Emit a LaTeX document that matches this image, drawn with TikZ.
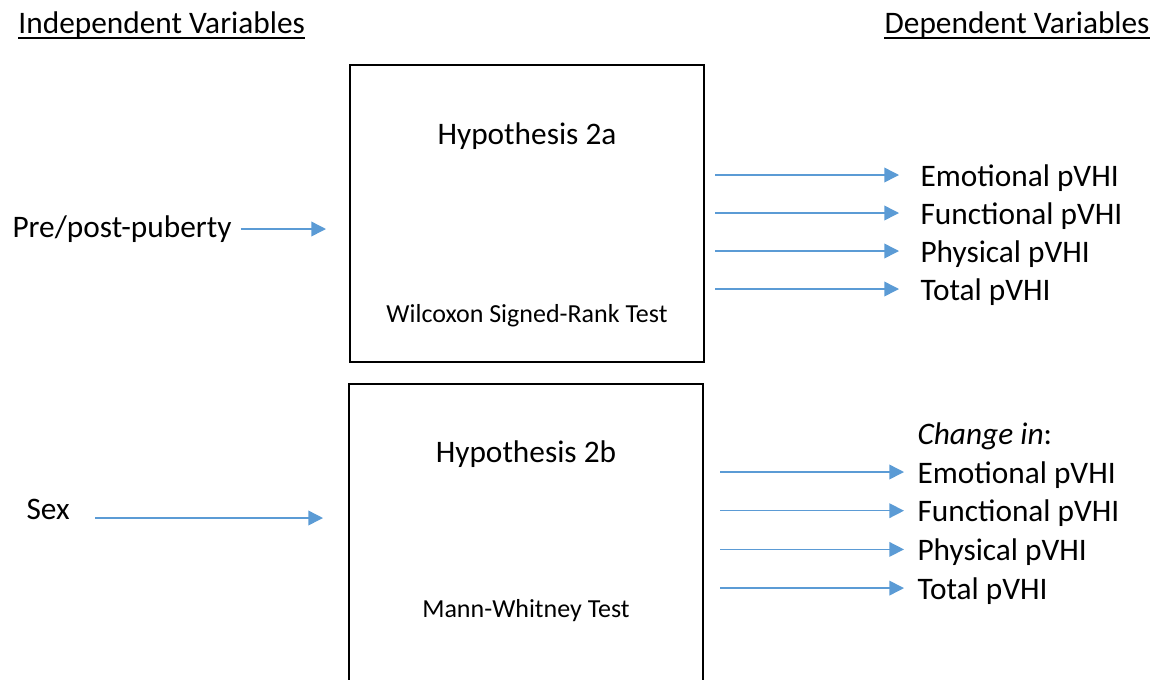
\documentclass[tikz,border=0pt]{standalone}
\usepackage{fontspec}
\setmainfont{Carlito}
\usetikzlibrary{arrows.meta,positioning,calc}
\definecolor{arrowblue}{HTML}{5B9BD5}
\tikzset{every picture/.style={line width=0.75pt}}
\tikzset{
    hypbox/.style={draw, line width=1.5pt, inner sep=0pt, anchor=north west},
    varlabel/.style={font=\fontsize{23.5}{28}\selectfont, inner sep=0pt,
        text height=16.5pt, text depth=0pt, anchor=base west},
    testlabel/.style={font=\fontsize{19.5}{24}\selectfont, inner sep=0pt,
        text height=14pt, text depth=0pt},
    effect/.style={draw=arrowblue, line width=1.1pt, -{Triangle[length=11pt, width=11pt]}},
    headline/.style={line width=1.5pt}
}

\begin{document}
\begin{tikzpicture}[x=0.75pt, y=-0.75pt]
    \useasboundingbox (0,0) rectangle (1162,679);
    % headings
    \node[varlabel] (indep) at (18,33) {Independent Variables};
    \node[varlabel, anchor=base east] (dep) at (1150,33) {Dependent Variables};
    \draw[headline] ([yshift=-3.75pt]indep.base west) -- ([yshift=-3.75pt]indep.base east);
    \draw[headline] ([yshift=-3.75pt]dep.base west) -- ([yshift=-3.75pt]dep.base east);

    % the two tests
    \node[hypbox, minimum width=265.5pt, minimum height=222.75pt] (boxA) at (349,64) {};
    \node[hypbox, minimum width=265.5pt, minimum height=240pt] (boxB) at (348,383) {};
    \node[varlabel, below=43.5pt of boxA.north] (hypA) {Hypothesis 2a};
    \node[testlabel, above=30pt of boxA.south] (testA) {Wilcoxon Signed-Rank Test};
    \node[varlabel, below=42.75pt of boxB.north] (hypB) {Hypothesis 2b};
    \node[testlabel, below=161.5pt of boxB.north] (testB) {Mann-Whitney Test};

    % independent variables
    \node[varlabel] (pre) at (12,237) {Pre/post-puberty};
    \node[varlabel] (sex) at (26,519) {Sex};
    \draw[effect, shorten <=6.75pt, shorten >=17.25pt]
        ($(pre.east)+(0,3)$) -- ($(pre.east -| boxA.west)+(0,3)$);
    \draw[effect, shorten <=18.75pt, shorten >=18.75pt]
        ($(sex.east)+(0,10)$) -- ($(sex.east -| boxB.west)+(0,10)$);

    % dependent variables
    \node[varlabel] (chg) at (917,444) {\textit{Change in}:};
    \foreach \name/\lab [count=\i from 0] in {emo/Emotional,fun/Functional,phy/Physical,tot/Total} {
        \node[varlabel] (a-\name) at (920,186+38*\i) {\lab{} pVHI};
        \node[varlabel] (b-\name) at (917,483+38.7*\i) {\lab{} pVHI};
        \draw[effect, shorten <=7.5pt, shorten >=15.75pt] (boxA.east |- a-\name.west) -- (a-\name.west);
        \draw[effect, shorten <=12pt, shorten >=9.75pt] (boxB.east |- b-\name.west) -- (b-\name.west);
    }
\end{tikzpicture}
\end{document}
